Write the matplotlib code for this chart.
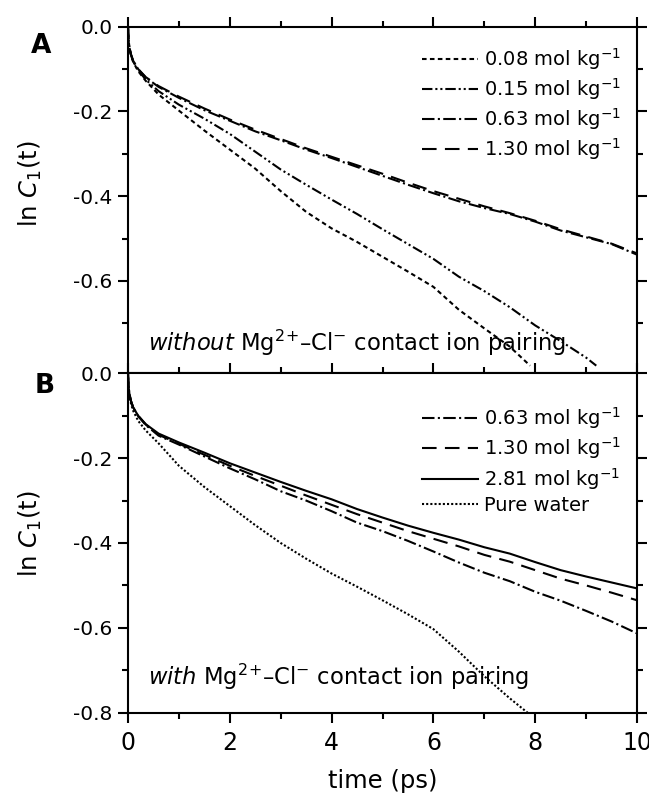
import matplotlib
matplotlib.use("Agg")
import matplotlib.pyplot as plt
from matplotlib.ticker import MultipleLocator, FixedLocator, FormatStrFormatter

plt.rcParams['font.family'] = ['DejaVu Sans']
plt.rcParams['axes.unicode_minus'] = False
plt.rcParams['mathtext.fontset'] = 'dejavusans'

# ---------------- data ----------------
t_grid = [0, 0.01, 0.03, 0.06, 0.1, 0.2, 0.35, 0.6, 1.0, 1.5, 2.0, 2.5, 3.0, 3.5,
          4.0, 4.5, 5.0, 5.5, 6.0, 6.5, 7.0, 7.5, 8.0, 8.5, 9.0, 9.5, 10.0]

# Panel A (without contact ion pairing)
t_a_008 = [0, 0.01, 0.03, 0.06, 0.1, 0.2, 0.35, 0.6, 1.0, 1.5, 2.0, 2.5, 3.0, 3.5,
           4.0, 4.5, 5.0, 5.5, 6.0, 6.5, 7.0, 7.5, 7.9]
a_008 = [0, -0.03, -0.052, -0.068, -0.083, -0.105, -0.128, -0.160, -0.198, -0.245,
         -0.290, -0.335, -0.388, -0.437, -0.476, -0.508, -0.543, -0.578, -0.614,
         -0.668, -0.712, -0.755, -0.800]
t_a_015 = [0, 0.01, 0.03, 0.06, 0.1, 0.2, 0.35, 0.6, 1.0, 1.5, 2.0, 2.5, 3.0, 3.5,
           4.0, 4.5, 5.0, 5.5, 6.0, 6.5, 7.0, 7.5, 8.0, 8.5, 9.0, 9.2]
a_015 = [0, -0.03, -0.052, -0.067, -0.082, -0.103, -0.125, -0.152, -0.184, -0.217,
         -0.253, -0.295, -0.337, -0.373, -0.408, -0.442, -0.478, -0.513, -0.548,
         -0.590, -0.624, -0.662, -0.705, -0.742, -0.781, -0.800]
a_063 = [0, -0.03, -0.05, -0.066, -0.08, -0.1, -0.12, -0.142, -0.168, -0.197, -0.222,
         -0.247, -0.268, -0.290, -0.310, -0.331, -0.352, -0.373, -0.393, -0.412,
         -0.428, -0.442, -0.460, -0.481, -0.497, -0.513, -0.538]
a_130 = [0, -0.03, -0.05, -0.066, -0.08, -0.1, -0.119, -0.140, -0.165, -0.193, -0.219,
         -0.243, -0.265, -0.287, -0.307, -0.327, -0.347, -0.368, -0.388, -0.406,
         -0.424, -0.440, -0.458, -0.478, -0.495, -0.512, -0.535]

# Panel B (with contact ion pairing)
b_063 = [0, -0.03, -0.05, -0.066, -0.08, -0.101, -0.122, -0.147, -0.168, -0.196, -0.224,
         -0.250, -0.278, -0.300, -0.325, -0.352, -0.372, -0.395, -0.420, -0.446,
         -0.470, -0.490, -0.515, -0.536, -0.560, -0.585, -0.613]
b_130 = [0, -0.03, -0.05, -0.066, -0.08, -0.1, -0.121, -0.145, -0.166, -0.192, -0.218,
         -0.242, -0.265, -0.288, -0.310, -0.332, -0.352, -0.372, -0.390, -0.408,
         -0.428, -0.444, -0.464, -0.484, -0.500, -0.517, -0.535]
b_281 = [0, -0.03, -0.05, -0.066, -0.08, -0.1, -0.12, -0.142, -0.163, -0.187, -0.212,
         -0.234, -0.256, -0.277, -0.297, -0.320, -0.340, -0.359, -0.376, -0.392,
         -0.410, -0.425, -0.445, -0.464, -0.479, -0.493, -0.507]
t_water = [0, 0.01, 0.03, 0.06, 0.1, 0.2, 0.35, 0.6, 1.0, 1.5, 2.0, 2.5, 3.0, 3.5,
           4.0, 4.5, 5.0, 5.5, 6.0, 6.5, 7.0, 7.5, 7.85]
b_water = [0, -0.03, -0.055, -0.072, -0.088, -0.112, -0.135, -0.165, -0.218, -0.268,
           -0.313, -0.358, -0.400, -0.437, -0.472, -0.503, -0.535, -0.568, -0.603,
           -0.656, -0.714, -0.766, -0.800]

labels_a = ['0.08 mol kg$^{-1}$', '0.15 mol kg$^{-1}$', '0.63 mol kg$^{-1}$', '1.30 mol kg$^{-1}$']
labels_b = ['0.63 mol kg$^{-1}$', '1.30 mol kg$^{-1}$', '2.81 mol kg$^{-1}$', 'Pure water']
yticks_a = [0.0, -0.2, -0.4, -0.6]
yminor_a = [-0.1, -0.3, -0.5, -0.7]
yticks_b = [0.0, -0.2, -0.4, -0.6, -0.8]
yminor_b = [-0.1, -0.3, -0.5, -0.7]

# ---------------- styles ----------------
LW = 1.5
ls_008 = (0, (2.2, 1.6))
ls_015 = (0, (5, 1.4, 1, 1.4, 1, 1.4))
ls_063 = (0, (6, 1.6, 1, 1.6))
ls_130 = (0, (7, 4))
ls_dot = (0, (1, 1))

W, H = 649, 801
fig = plt.figure(figsize=(W / 100, H / 100), dpi=100)
left = 128 / W
width = (637 - 128) / W
axA = fig.add_axes([left, 1 - 373.3 / H, width, (373.3 - 26.7) / H])
axB = fig.add_axes([left, 1 - 712.7 / H, width, (712.7 - 373.3) / H])

axA.plot(t_a_008, a_008, color='black', lw=LW, ls=ls_008, label=labels_a[0])
axA.plot(t_a_015, a_015, color='black', lw=LW, ls=ls_015, label=labels_a[1])
axA.plot(t_grid, a_063, color='black', lw=LW, ls=ls_063, label=labels_a[2])
axA.plot(t_grid, a_130, color='black', lw=LW, ls=ls_130, label=labels_a[3])

axB.plot(t_grid, b_063, color='black', lw=LW, ls=ls_063, label=labels_b[0])
axB.plot(t_grid, b_130, color='black', lw=LW, ls=ls_130, label=labels_b[1])
axB.plot(t_grid, b_281, color='black', lw=LW, ls='-', label=labels_b[2])
axB.plot(t_water, b_water, color='black', lw=LW, ls=ls_dot, label=labels_b[3])

axA.set_ylim(-0.818, 0)
axB.set_ylim(-0.8, 0)
axA.yaxis.set_major_locator(FixedLocator(yticks_a))
axA.yaxis.set_minor_locator(FixedLocator(yminor_a))
axB.yaxis.set_major_locator(FixedLocator(yticks_b))
axB.yaxis.set_minor_locator(FixedLocator(yminor_b))
for ax in (axA, axB):
    ax.set_xlim(0, 10)
    ax.xaxis.set_major_locator(MultipleLocator(2))
    ax.xaxis.set_minor_locator(MultipleLocator(1))
    ax.yaxis.set_major_formatter(FormatStrFormatter('%.1f'))
    for s in ax.spines.values():
        s.set_linewidth(1.5)
    ax.tick_params(which='major', direction='out', length=7, width=1.5,
                   left=True, right=True, labelleft=True, labelright=False)
    ax.tick_params(which='minor', direction='out', length=4, width=1.5,
                   left=True, right=True)
    ax.tick_params(axis='y', labelsize=14.5, pad=4)
    ax.tick_params(axis='x', labelsize=17, pad=6)

axA.tick_params(axis='x', which='both', top=True, bottom=False, labeltop=False, labelbottom=False)
axB.tick_params(axis='x', which='both', top=True, bottom=True, labeltop=False, labelbottom=True)

leg_kw = dict(loc='upper right', frameon=False, fontsize=14, handlelength=2.9,
              handletextpad=0.3, labelspacing=0.22, borderaxespad=0, borderpad=0)
axA.legend(bbox_to_anchor=(1 - 16 / 509, 1 - 19 / 346.6), **leg_kw)
axB.legend(bbox_to_anchor=(1 - 16 / 509, 1 - 32 / 339.4), **leg_kw)

axA.text(0.39, -(350 - 26.7) / 423,
         r'$\mathit{without}$ Mg$^{2}$$^{+}$–Cl$^{-}$ contact ion pairing',
         fontsize=16.3, va='baseline', ha='left')
axB.text(0.39, -(685 - 373.3) / 424,
         r'$\mathit{with}$ Mg$^{2}$$^{+}$–Cl$^{-}$ contact ion pairing',
         fontsize=16.3, va='baseline', ha='left')

fig.text(30 / W, 1 - 184 / H, r'ln $C_1$(t)', rotation=90, fontsize=17.5, ha='center', va='center')
fig.text(30 / W, 1 - 534 / H, r'ln $C_1$(t)', rotation=90, fontsize=17.5, ha='center', va='center')
fig.text(383 / W, 1 - 781 / H, 'time (ps)', fontsize=17.5, ha='center', va='center')
fig.text(41 / W, 1 - 46 / H, 'A', fontsize=19, fontweight='bold', ha='center', va='center')
fig.text(45 / W, 1 - 386 / H, 'B', fontsize=19, fontweight='bold', ha='center', va='center')

fig.savefig('out.png', dpi=100)
